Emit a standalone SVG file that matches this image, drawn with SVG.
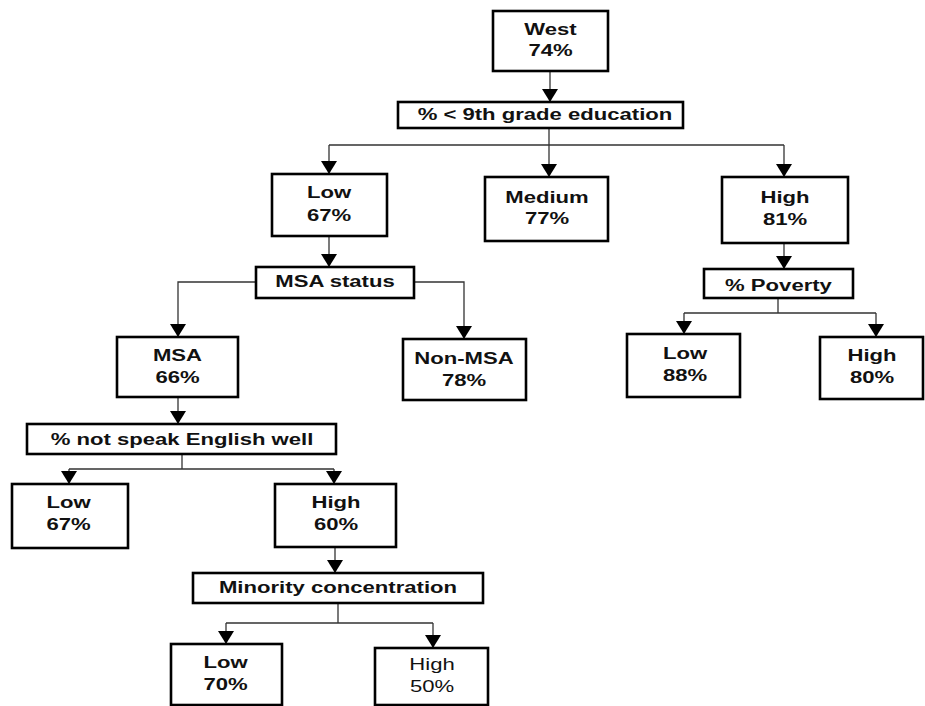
<svg xmlns="http://www.w3.org/2000/svg" width="925" height="706" viewBox="0 0 925 706">
<style>
.box{fill:#fff;stroke:#000;stroke-width:2.6}
.t{font-family:"Liberation Sans",Arial,sans-serif;font-size:17px;font-weight:bold;text-anchor:middle;fill:#111}
.r{font-weight:normal}
.c{fill:none;stroke:#333;stroke-width:1.3}
</style>
<defs>
<marker id="ah" markerUnits="userSpaceOnUse" viewBox="0 0 13 16" markerWidth="13" markerHeight="16" refX="13" refY="8" orient="auto">
<path d="M0,0 L13,8 L0,16 z" fill="#000"/>
</marker>
</defs>
<rect width="925" height="706" fill="#fff"/>
<g id="connectors">
<path class="c" d="M550,71 V102" marker-end="url(#ah)"/>
<path class="c" d="M549,128 V145 M329,145 H784"/>
<path class="c" d="M329,145 V174" marker-end="url(#ah)"/>
<path class="c" d="M549,145 V177" marker-end="url(#ah)"/>
<path class="c" d="M784,145 V177" marker-end="url(#ah)"/>
<path class="c" d="M329,236 V267" marker-end="url(#ah)"/>
<path class="c" d="M256,282 H178 V337" marker-end="url(#ah)"/>
<path class="c" d="M414,282 H464 V339" marker-end="url(#ah)"/>
<path class="c" d="M784,243 V269" marker-end="url(#ah)"/>
<path class="c" d="M778,298 V313 M684,313 H876"/>
<path class="c" d="M684,313 V334" marker-end="url(#ah)"/>
<path class="c" d="M876,313 V337" marker-end="url(#ah)"/>
<path class="c" d="M178,397 V424" marker-end="url(#ah)"/>
<path class="c" d="M182,454 V469 M69,469 H334"/>
<path class="c" d="M69,469 V484" marker-end="url(#ah)"/>
<path class="c" d="M334,469 V484" marker-end="url(#ah)"/>
<path class="c" d="M335,547 V573" marker-end="url(#ah)"/>
<path class="c" d="M338,603 V623 M226,623 H433"/>
<path class="c" d="M226,623 V644" marker-end="url(#ah)"/>
<path class="c" d="M433,623 V648" marker-end="url(#ah)"/>
</g>
<g id="west">
<rect class="box" x="493" y="11" width="115" height="60"/>
<text class="t" transform="matrix(1.3 0 0 1 550.5 35)">West</text>
<text class="t" transform="matrix(1.3 0 0 1 550.5 56)">74%</text>
</g>
<g id="edu">
<rect class="box" x="398" y="102" width="285" height="26"/>
<text class="t" transform="matrix(1.3 0 0 1 545 120)">% &lt; 9th grade education</text>
</g>
<g id="edu-low">
<rect class="box" x="272" y="174" width="115" height="62"/>
<text class="t" transform="matrix(1.3 0 0 1 329 198)">Low</text>
<text class="t" transform="matrix(1.3 0 0 1 329 220.5)">67%</text>
</g>
<g id="edu-medium">
<rect class="box" x="485" y="177" width="123" height="64"/>
<text class="t" transform="matrix(1.3 0 0 1 547 202.5)">Medium</text>
<text class="t" transform="matrix(1.3 0 0 1 547 224)">77%</text>
</g>
<g id="edu-high">
<rect class="box" x="722" y="177" width="126" height="66"/>
<text class="t" transform="matrix(1.3 0 0 1 785 203)">High</text>
<text class="t" transform="matrix(1.3 0 0 1 785 225)">81%</text>
</g>
<g id="msa-status">
<rect class="box" x="256" y="267" width="158" height="31"/>
<text class="t" transform="matrix(1.3 0 0 1 335 286.5)">MSA status</text>
</g>
<g id="poverty">
<rect class="box" x="704" y="269" width="149" height="29"/>
<text class="t" transform="matrix(1.3 0 0 1 778.5 290.5)">% Poverty</text>
</g>
<g id="msa">
<rect class="box" x="117" y="337" width="121" height="60"/>
<text class="t" transform="matrix(1.3 0 0 1 177.5 361)">MSA</text>
<text class="t" transform="matrix(1.3 0 0 1 177.5 383)">66%</text>
</g>
<g id="non-msa">
<rect class="box" x="403" y="339" width="123" height="61"/>
<text class="t" transform="matrix(1.3 0 0 1 464 363.5)">Non-MSA</text>
<text class="t" transform="matrix(1.3 0 0 1 464 385.5)">78%</text>
</g>
<g id="pov-low">
<rect class="box" x="627" y="334" width="113" height="63"/>
<text class="t" transform="matrix(1.3 0 0 1 685 359)">Low</text>
<text class="t" transform="matrix(1.3 0 0 1 685 381)">88%</text>
</g>
<g id="pov-high">
<rect class="box" x="820" y="337" width="103" height="62"/>
<text class="t" transform="matrix(1.3 0 0 1 872 361)">High</text>
<text class="t" transform="matrix(1.3 0 0 1 872 383)">80%</text>
</g>
<g id="english">
<rect class="box" x="27" y="424" width="309" height="30"/>
<text class="t" transform="matrix(1.3 0 0 1 182 445)">% not speak English well</text>
</g>
<g id="eng-low">
<rect class="box" x="12" y="484" width="116" height="64"/>
<text class="t" transform="matrix(1.3 0 0 1 68.5 508)">Low</text>
<text class="t" transform="matrix(1.3 0 0 1 68.5 530)">67%</text>
</g>
<g id="eng-high">
<rect class="box" x="275" y="484" width="121" height="63"/>
<text class="t" transform="matrix(1.3 0 0 1 336 508)">High</text>
<text class="t" transform="matrix(1.3 0 0 1 336 530)">60%</text>
</g>
<g id="minority">
<rect class="box" x="193" y="573" width="290" height="30"/>
<text class="t" transform="matrix(1.3 0 0 1 338 592.5)">Minority concentration</text>
</g>
<g id="min-low">
<rect class="box" x="171" y="644" width="111" height="61"/>
<text class="t" transform="matrix(1.3 0 0 1 225.5 668)">Low</text>
<text class="t" transform="matrix(1.3 0 0 1 225.5 690)">70%</text>
</g>
<g id="min-high">
<rect class="box" x="375" y="648" width="113" height="57"/>
<text class="t r" transform="matrix(1.3 0 0 1 432 670)">High</text>
<text class="t r" transform="matrix(1.3 0 0 1 432 692)">50%</text>
</g>
</svg>
